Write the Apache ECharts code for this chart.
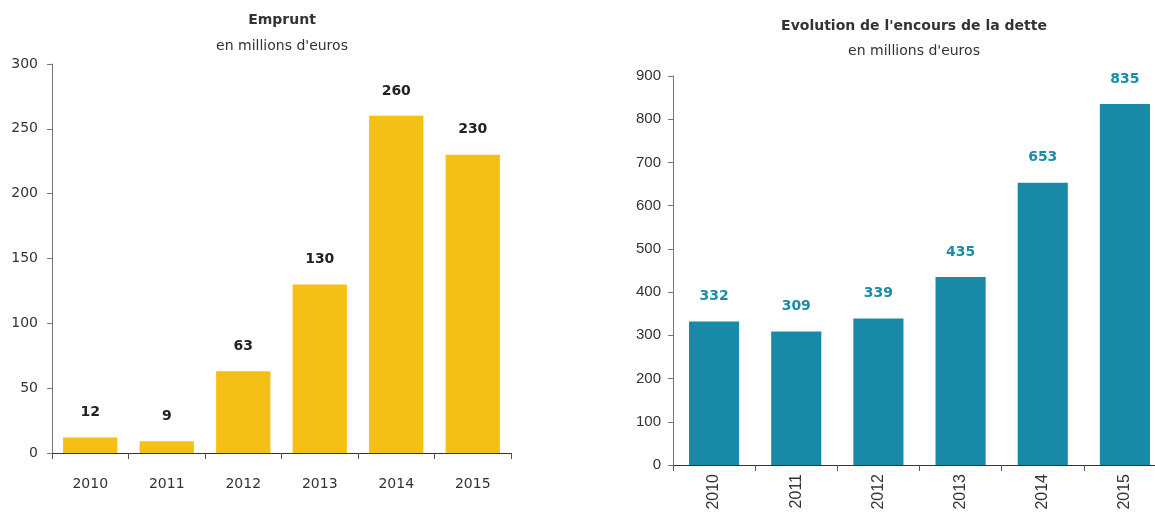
<!DOCTYPE html>
<html>
<head>
<meta charset="utf-8">
<script src="https://cdn.jsdelivr.net/npm/echarts@6/dist/echarts.min.js"></script>
<style>
  html, body { margin: 0; padding: 0; background: #fff; overflow: hidden; }
  /* a bit wider than the window: the right axis runs past the picture edge */
  #chart { width: 1170px; height: 515px; }
</style>
</head>
<body>
<div id="chart"></div>
<script>
// categories and values
const years = ['2010', '2011', '2012', '2013', '2014', '2015'];
const emprunt = [12, 9, 63, 130, 260, 230];
const encours = [332, 309, 339, 435, 653, 835];

const chart = echarts.init(document.getElementById('chart'));

const leftFont = 'DejaVu Sans';
const rightFont = 'Liberation Sans';

const option = {
  animation: false,
  title: [
    {
      text: 'Emprunt',
      subtext: "en millions d'euros",
      left: 277, top: 8, textAlign: 'center',
      itemGap: 12,
      textStyle: { fontFamily: leftFont, fontSize: 14, fontWeight: 'bold', color: '#333' },
      subtextStyle: { fontFamily: leftFont, fontSize: 14, color: '#333' }
    },
    {
      text: "Evolution de l'encours de la dette",
      subtext: "en millions d'euros",
      left: 909, top: 14, textAlign: 'center',
      itemGap: 11,
      textStyle: { fontFamily: leftFont, fontSize: 14, fontWeight: 'bold', color: '#333' },
      subtextStyle: { fontFamily: leftFont, fontSize: 14, color: '#333' }
    }
  ],
  grid: [
    { left: 52, top: 64, width: 459, height: 389 },
    { left: 673, top: 76, width: 493, height: 389 }
  ],
  xAxis: [
    {
      gridIndex: 0, type: 'category', data: years,
      axisLine: { lineStyle: { color: '#333', width: 1 } },
      axisTick: { show: true, length: 6, lineStyle: { color: '#555' } },
      axisLabel: { margin: 24, color: '#333', fontFamily: leftFont, fontSize: 14 }
    },
    {
      gridIndex: 1, type: 'category', data: years,
      axisLine: { lineStyle: { color: '#333', width: 1 } },
      axisTick: { show: true, length: 6, lineStyle: { color: '#555' } },
      axisLabel: { margin: 9, rotate: 90, color: '#333', fontFamily: rightFont, fontSize: 16 }
    }
  ],
  yAxis: [
    {
      gridIndex: 0, type: 'value', min: 0, max: 300, interval: 50,
      splitLine: { show: false },
      axisLine: { show: true, lineStyle: { color: '#777' } },
      axisTick: { show: true, length: 5, lineStyle: { color: '#777' } },
      axisLabel: { margin: 14, color: '#333', fontFamily: leftFont, fontSize: 14 }
    },
    {
      gridIndex: 1, type: 'value', min: 0, max: 900, interval: 100,
      splitLine: { show: false },
      axisLine: { show: true, lineStyle: { color: '#777' } },
      axisTick: { show: true, length: 5, lineStyle: { color: '#777' } },
      axisLabel: { margin: 12, color: '#333', fontFamily: rightFont, fontSize: 15 }
    }
  ],
  series: [
    {
      type: 'bar', xAxisIndex: 0, yAxisIndex: 0, data: emprunt,
      barWidth: '71%',
      itemStyle: { color: '#F5C016' },
      label: {
        show: true, position: 'top', distance: 18,
        color: '#222', fontFamily: leftFont, fontSize: 14, fontWeight: 'bold'
      }
    },
    {
      type: 'bar', xAxisIndex: 1, yAxisIndex: 1, data: encours,
      barWidth: '61%',
      itemStyle: { color: '#1889A6' },
      label: {
        show: true, position: 'top', distance: 18,
        color: '#1A8BA8', fontFamily: leftFont, fontSize: 14, fontWeight: 'bold'
      }
    }
  ]
};

chart.setOption(option);
</script>
</body>
</html>
